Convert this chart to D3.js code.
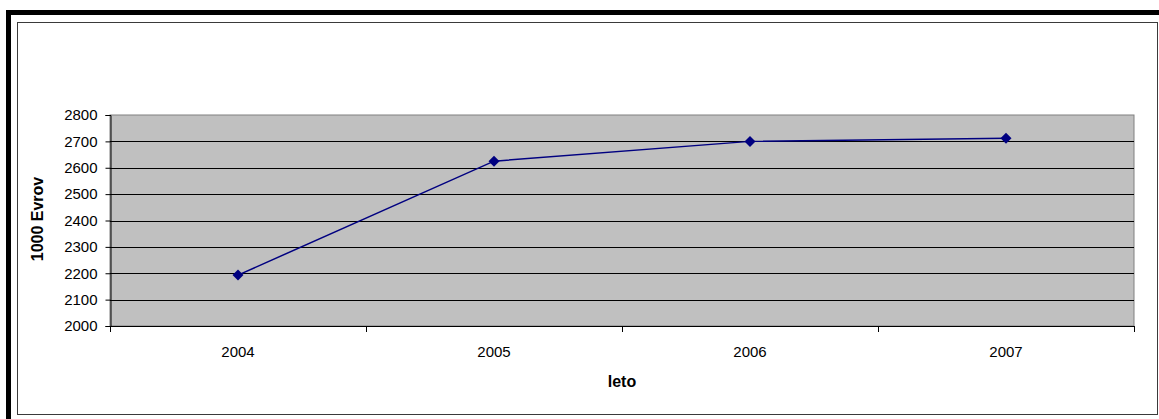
<!DOCTYPE html>
<html>
<head>
<meta charset="utf-8">
<script src="https://cdn.jsdelivr.net/npm/d3@7"></script>
<style>
  html, body { margin: 0; padding: 0; background: #fff; }
  svg { display: block; font-family: Arial, "Liberation Sans", sans-serif; }
</style>
</head>
<body>
<svg id="chart" width="1159" height="419"></svg>
<script>
// Years on the category axis
const years = ["2004", "2005", "2006", "2007"];
// Values in thousands of euros
const values = [2193, 2625, 2700, 2712];
// Value axis ticks
const yTicks = [2000, 2100, 2200, 2300, 2400, 2500, 2600, 2700, 2800];
const yTitle = "1000 Evrov";
const xTitle = "leto";

const svg = d3.select("#chart");

// Outer frame: thick black band on top and left, thin inner border
svg.append("rect").attr("x", 6).attr("y", 10).attr("width", 1160).attr("height", 420)
  .attr("fill", "#000");
svg.append("rect").attr("x", 11).attr("y", 15).attr("width", 1160).attr("height", 420)
  .attr("fill", "#fff");
svg.append("rect").attr("x", 17.5).attr("y", 22.5).attr("width", 1140).attr("height", 392)
  .attr("fill", "none").attr("stroke", "#3a3a3a").attr("stroke-width", 1);

const plot = { left: 110, top: 115, right: 1134, bottom: 326 };

const x = d3.scaleBand().domain(years).range([plot.left, plot.right]).padding(0);
const y = d3.scaleLinear().domain([2000, 2800]).range([plot.bottom, plot.top]);

// Plot area
svg.append("rect")
  .attr("x", plot.left).attr("y", plot.top)
  .attr("width", plot.right - plot.left).attr("height", plot.bottom - plot.top)
  .attr("fill", "#c0c0c0").attr("stroke", "#808080").attr("stroke-width", 1);

// Horizontal gridlines
svg.append("g").selectAll("line")
  .data(yTicks.filter(t => t > 2000 && t < 2800))
  .join("line")
  .attr("x1", plot.left).attr("x2", plot.right)
  .attr("y1", d => Math.round(y(d)) + 0.5).attr("y2", d => Math.round(y(d)) + 0.5)
  .attr("stroke", "#000").attr("stroke-width", 1);

// Value axis
const yAxis = d3.axisLeft(y).tickValues(yTicks).tickSize(5).tickPadding(8).tickFormat(d3.format("d"));
const gy = svg.append("g").attr("transform", `translate(${plot.left + 0.5},0)`).call(yAxis);
gy.select(".domain").attr("stroke", "#000");
gy.selectAll(".tick line").attr("stroke", "#000");
gy.selectAll("text").attr("font-size", 15).attr("fill", "#000")
  .attr("font-family", "Arial, 'Liberation Sans', sans-serif");

// Category axis with ticks between categories
const xEdges = years.map(d => x(d)).concat([plot.right]);
svg.append("line").attr("x1", plot.left).attr("x2", plot.right + 1)
  .attr("y1", plot.bottom + 0.5).attr("y2", plot.bottom + 0.5).attr("stroke", "#000");
svg.append("g").selectAll("line").data(xEdges).join("line")
  .attr("x1", d => Math.round(d) + 0.5).attr("x2", d => Math.round(d) + 0.5)
  .attr("y1", plot.bottom).attr("y2", plot.bottom + 6).attr("stroke", "#000");
svg.append("g").selectAll("text").data(years).join("text")
  .attr("x", d => x(d) + x.bandwidth() / 2).attr("y", 357)
  .attr("text-anchor", "middle").attr("font-size", 15).attr("fill", "#000")
  .text(d => d);

// Axis titles
svg.append("text")
  .attr("transform", `translate(43,219) rotate(-90)`)
  .attr("text-anchor", "middle").attr("font-size", 16).attr("font-weight", "bold")
  .text(yTitle);
svg.append("text")
  .attr("x", (plot.left + plot.right) / 2).attr("y", 387)
  .attr("text-anchor", "middle").attr("font-size", 16).attr("font-weight", "bold")
  .text(xTitle);

// Series line and diamond markers
const pts = years.map((d, i) => [x(d) + x.bandwidth() / 2, y(values[i])]);
svg.append("path")
  .attr("d", d3.line()(pts))
  .attr("fill", "none").attr("stroke", "#000080").attr("stroke-width", 1.5);
svg.append("g").selectAll("path").data(pts).join("path")
  .attr("transform", d => `translate(${d[0]},${d[1]})`)
  .attr("d", "M0,-5.5L5.5,0L0,5.5L-5.5,0Z")
  .attr("fill", "#000080");
</script>
</body>
</html>
